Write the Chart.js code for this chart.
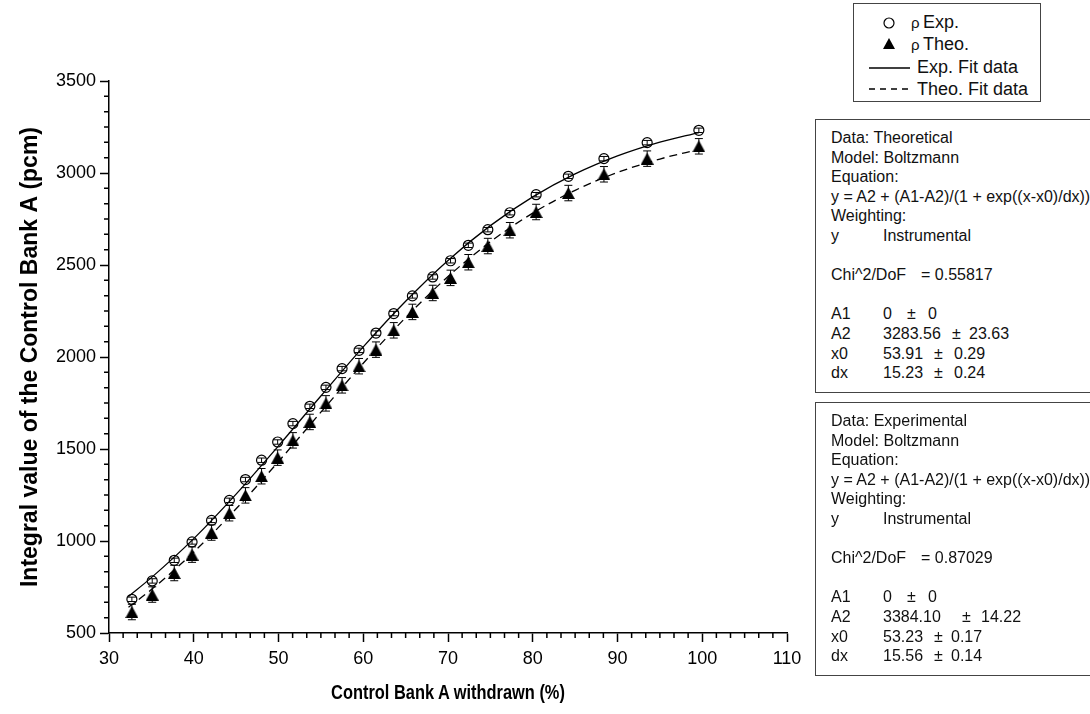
<!DOCTYPE html>
<html>
<head>
<meta charset="utf-8">
<script src="https://cdn.jsdelivr.net/npm/chart.js@4.4.1/dist/chart.umd.min.js"></script>
<style>
  html, body { margin: 0; padding: 0; background: #fff; overflow: hidden; }
  #wrap { position: relative; width: 1090px; height: 714px; }
  .box { position: absolute; border: 1px solid #444; background: #fff; box-sizing: border-box;
         font-family: "Liberation Sans", Arial, sans-serif; color: #111; }
  .legend { left: 853px; top: 3px; width: 188px; height: 99px; font-size: 18px; }
  .legend svg { position: absolute; left: 0; top: 0; }
  .legend span { position: absolute; line-height: 20px; white-space: pre; }
  .legend .rho { font-size: 15px; }
  .stats { left: 815px; width: 290px; height: 274px; padding: 8px 0 0 15px; font-size: 16px; }
  .ln { position: relative; height: 19.6px; line-height: 19.6px; }
  .ln span { position: absolute; top: 0; white-space: pre; }
  #tituloX { position: absolute; left: 248px; width: 400px; top: 681px; line-height: 24px; text-align: center;
             font: bold 20px "Liberation Sans", Arial, sans-serif; color: #000;
             transform: scaleX(0.82); transform-origin: 50% 50%; white-space: pre; }
</style>
</head>
<body>
<div id="wrap">
  <canvas id="graficoBarras" width="1090" height="714"></canvas>
  <div id="tituloX">Control Bank A withdrawn (%)</div>

  <div class="box legend">
    <svg width="188" height="99">
      <circle cx="35" cy="19" r="5" fill="none" stroke="#000" stroke-width="1.2"/>
      <polygon points="35,34 41,45 29,45" fill="#000"/>
      <line x1="15" y1="64" x2="56" y2="64" stroke="#000" stroke-width="1.3"/>
      <line x1="15" y1="85" x2="56" y2="85" stroke="#000" stroke-width="1.3" stroke-dasharray="6,5"/>
    </svg>
    <span style="left:57px;top:9px"><span class="rho">ρ</span></span><span style="left:69px;top:8px">Exp.</span>
    <span style="left:57px;top:31px"><span class="rho">ρ</span></span><span style="left:69px;top:30px">Theo.</span>
    <span style="left:63px;top:53px">Exp. Fit data</span>
    <span style="left:63px;top:75px">Theo. Fit data</span>
  </div>

  <div class="box stats" style="top:119px">
    <div class="ln"><span style="left:0">Data: Theoretical</span></div>
    <div class="ln"><span style="left:0">Model: Boltzmann</span></div>
    <div class="ln"><span style="left:0">Equation:</span></div>
    <div class="ln"><span style="left:0">y = A2 + (A1-A2)/(1 + exp((x-x0)/dx))</span></div>
    <div class="ln"><span style="left:0">Weighting:</span></div>
    <div class="ln"><span style="left:0">y</span><span style="left:52px">Instrumental</span></div>
    <div class="ln"></div>
    <div class="ln"><span style="left:0">Chi^2/DoF</span><span style="left:90px">= 0.55817</span></div>
    <div class="ln"></div>
    <div class="ln"><span style="left:0">A1</span><span style="left:52px">0</span><span style="left:76px">±</span><span style="left:97px">0</span></div>
    <div class="ln"><span style="left:0">A2</span><span style="left:52px">3283.56</span><span style="left:121px">±</span><span style="left:138px">23.63</span></div>
    <div class="ln"><span style="left:0">x0</span><span style="left:52px">53.91</span><span style="left:103px">±</span><span style="left:123px">0.29</span></div>
    <div class="ln"><span style="left:0">dx</span><span style="left:52px">15.23</span><span style="left:103px">±</span><span style="left:123px">0.24</span></div>
  </div>

  <div class="box stats" style="top:402px">
    <div class="ln"><span style="left:0">Data: Experimental</span></div>
    <div class="ln"><span style="left:0">Model: Boltzmann</span></div>
    <div class="ln"><span style="left:0">Equation:</span></div>
    <div class="ln"><span style="left:0">y = A2 + (A1-A2)/(1 + exp((x-x0)/dx))</span></div>
    <div class="ln"><span style="left:0">Weighting:</span></div>
    <div class="ln"><span style="left:0">y</span><span style="left:52px">Instrumental</span></div>
    <div class="ln"></div>
    <div class="ln"><span style="left:0">Chi^2/DoF</span><span style="left:90px">= 0.87029</span></div>
    <div class="ln"></div>
    <div class="ln"><span style="left:0">A1</span><span style="left:52px">0</span><span style="left:76px">±</span><span style="left:97px">0</span></div>
    <div class="ln"><span style="left:0">A2</span><span style="left:52px">3384.10</span><span style="left:131px">±</span><span style="left:150px">14.22</span></div>
    <div class="ln"><span style="left:0">x0</span><span style="left:52px">53.23</span><span style="left:103px">±</span><span style="left:120px">0.17</span></div>
    <div class="ln"><span style="left:0">dx</span><span style="left:52px">15.56</span><span style="left:103px">±</span><span style="left:120px">0.14</span></div>
  </div>
</div>

<script>
// pontos medidos (% retirado) - mesmos x para as duas series
var barraRetirada = [32.7, 35.1, 37.7, 39.8, 42.1, 44.2, 46.1, 48.0, 49.9, 51.7, 53.7, 55.6, 57.5, 59.5,
                     61.5, 63.6, 65.8, 68.2, 70.3, 72.4, 74.7, 77.3, 80.4, 84.2, 88.4, 93.5, 99.6];
var rhoExp  = [683, 783, 895, 995, 1112, 1221, 1334, 1439, 1538, 1638, 1732, 1835, 1937, 2036,
               2130, 2236, 2332, 2435, 2523, 2607, 2692, 2784, 2882, 2982, 3078, 3165, 3232];
var rhoTeo  = [614, 709, 826, 926, 1046, 1151, 1248, 1352, 1453, 1547, 1647, 1748, 1846, 1950,
               2040, 2145, 2245, 2348, 2430, 2515, 2603, 2689, 2788, 2891, 2993, 3078, 3145];
var erroExp = [12, 12, 12, 12, 12, 12, 12, 12, 12, 12, 12, 12, 12, 12,
               12, 12, 12, 12, 12, 12, 12, 12, 12, 12, 12, 12, 12];
var erroTeo = [42, 42, 42, 42, 42, 42, 42, 42, 42, 42, 42, 42, 42, 42,
               42, 42, 42, 42, 42, 42, 42, 42, 42, 42, 42, 42, 42];

// curvas de ajuste (Boltzmann)
var ajusteX      = [32.3, 35, 40, 45, 50, 55, 60, 65, 70, 75, 80, 85, 90, 95, 99.6];
var ajusteExpY   = [699, 801, 1013, 1255, 1517, 1788, 2055, 2303, 2525, 2714, 2870, 2995, 3093, 3168, 3220];
var ajusteTeoY   = [640, 736, 940, 1175, 1432, 1700, 1966, 2214, 2437, 2626, 2782, 2906, 3003, 3076, 3128];

var ticksX = [30, 40, 50, 60, 70, 80, 90, 100, 110];
var ticksY = [500, 1000, 1500, 2000, 2500, 3000, 3500];

function pares(xs, ys) {
	return xs.map(function(x, i) { return { x: x, y: ys[i] }; });
}

// triangulo centrado pela caixa (como no Origin)
function criarTriangulo() {
	var c = document.createElement('canvas');
	c.width = 13; c.height = 12;
	var g = c.getContext('2d');
	g.fillStyle = '#000';
	g.beginPath();
	g.moveTo(6.5, 0); g.lineTo(13, 12); g.lineTo(0, 12);
	g.closePath(); g.fill();
	return c;
}

var barrasErro = {
	id: 'barrasErro',
	beforeDatasetsDraw: function(chart) {
		var ctx = chart.ctx, x = chart.scales.x, y = chart.scales.y;
		ctx.save();
		ctx.strokeStyle = '#000';
		ctx.lineWidth = 1;
		[[rhoExp, erroExp], [rhoTeo, erroTeo]].forEach(function(s) {
			s[0].forEach(function(v, i) {
				var px = x.getPixelForValue(barraRetirada[i]);
				var y1 = y.getPixelForValue(v + s[1][i]);
				var y2 = y.getPixelForValue(v - s[1][i]);
				ctx.beginPath();
				ctx.moveTo(px, y1); ctx.lineTo(px, y2);
				ctx.moveTo(px - 4, y1); ctx.lineTo(px + 4, y1);
				ctx.moveTo(px - 4, y2); ctx.lineTo(px + 4, y2);
				ctx.stroke();
			});
		});
		ctx.restore();
	}
};

var ticksMenores = {
	id: 'ticksMenores',
	afterDraw: function(chart) {
		var ctx = chart.ctx, x = chart.scales.x, y = chart.scales.y;
		var baseY = chart.chartArea.bottom, baseX = chart.chartArea.left;
		ctx.save();
		ctx.strokeStyle = '#000';
		ctx.lineWidth = 1.5;
		ctx.beginPath();
		for (var i = 1; i < ticksX.length; i++) {
			for (var k = 1; k < 6; k++) {
				var px = x.getPixelForValue(ticksX[i - 1] + k * (ticksX[i] - ticksX[i - 1]) / 6);
				ctx.moveTo(px, baseY); ctx.lineTo(px, baseY + 5);
			}
		}
		for (var j = 1; j < ticksY.length; j++) {
			for (var m = 1; m < 6; m++) {
				var py = y.getPixelForValue(ticksY[j - 1] + m * (ticksY[j] - ticksY[j - 1]) / 6);
				ctx.moveTo(baseX, py); ctx.lineTo(baseX - 5, py);
			}
		}
		ctx.stroke();
		ctx.restore();
	}
};

Chart.defaults.font.family = "'Liberation Sans', Arial, sans-serif";
Chart.defaults.color = '#000';

var ctx = document.getElementById('graficoBarras').getContext('2d');

new Chart(ctx, {
	type: 'scatter',
	data: {
		datasets: [{
			label: 'ρ Exp.',
			data: pares(barraRetirada, rhoExp),
			pointStyle: 'circle',
			pointRadius: 5,
			pointBorderWidth: 1.2,
			pointBorderColor: '#000',
			pointBackgroundColor: 'rgba(0,0,0,0)',
			order: 1
		}, {
			label: 'ρ Theo.',
			data: pares(barraRetirada, rhoTeo),
			pointStyle: criarTriangulo(),
			order: 2
		}, {
			label: 'Exp. Fit data',
			data: pares(ajusteX, ajusteExpY),
			showLine: true,
			borderColor: '#000',
			borderWidth: 1.3,
			pointRadius: 0,
			cubicInterpolationMode: 'monotone',
			order: 3
		}, {
			label: 'Theo. Fit data',
			data: pares(ajusteX, ajusteTeoY),
			showLine: true,
			borderColor: '#000',
			borderWidth: 1.3,
			borderDash: [8, 5],
			pointRadius: 0,
			cubicInterpolationMode: 'monotone',
			order: 4
		}]
	},
	options: {
		responsive: false,
		animation: false,
		layout: { padding: { left: 0, top: 81, right: 303, bottom: 0 } },
		plugins: { legend: { display: false }, tooltip: { enabled: false } },
		scales: {
			x: {
				type: 'linear',
				min: 30, max: 110,
				afterFit: function(scale) { scale.height = 81; },
				border: { display: true, color: '#000', width: 1.5 },
				grid: { drawOnChartArea: false, drawTicks: true, tickLength: 9, tickColor: '#000', tickWidth: 1.5 },
				ticks: { stepSize: 10, padding: 6, font: { size: 18 }, maxRotation: 0,
					callback: function(v) { return String(v); } }
			},
			y: {
				type: 'linear',
				min: 500, max: 3500,
				afterFit: function(scale) { scale.width = 109; },
				border: { display: true, color: '#000', width: 1.5 },
				grid: { drawOnChartArea: false, drawTicks: true, tickLength: 9, tickColor: '#000', tickWidth: 1.5 },
				ticks: { stepSize: 500, padding: 4, font: { size: 18 },
					callback: function(v) { return String(v); } },
				title: {
					display: true,
					text: 'Integral value of the Control Bank A (pcm)',
					font: { size: 23, weight: 'bold' },
					padding: { top: 17, bottom: 0 }
				}
			}
		}
	},
	plugins: [barrasErro, ticksMenores]
});
</script>
</body>
</html>
